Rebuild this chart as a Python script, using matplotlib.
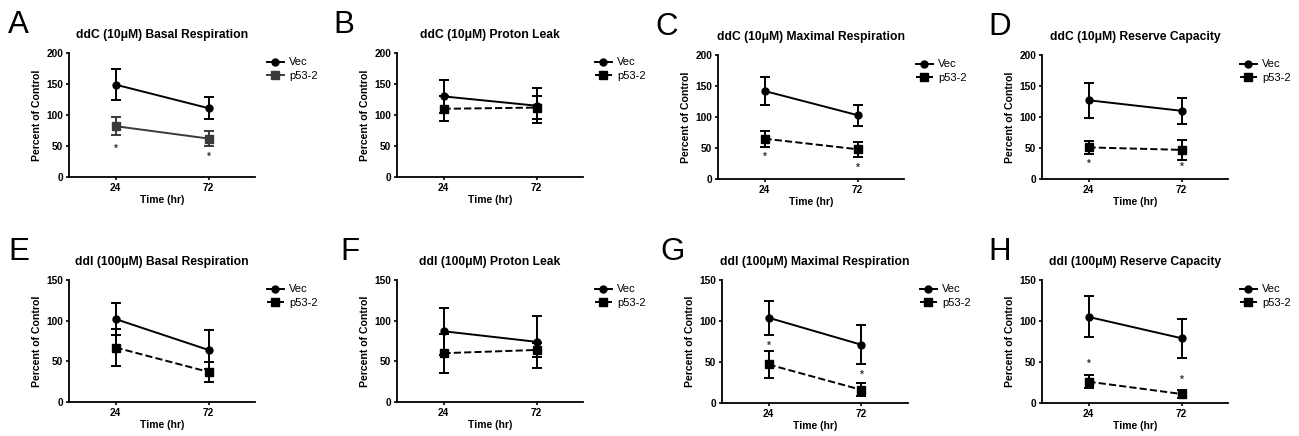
import matplotlib
matplotlib.use('Agg')
import matplotlib.pyplot as plt
from matplotlib.lines import Line2D

plt.rcParams['font.family'] = ['Liberation Sans', 'DejaVu Sans']

# panel data: Vec and p53-2 at 24 h and 72 h (mean, SEM)
timePoints = [24, 72]
panelLetters = ['A', 'B', 'C', 'D', 'E', 'F', 'G', 'H']
panelTitles = ['ddC (10\u03bcM) Basal Respiration', 'ddC (10\u03bcM) Proton Leak',
               'ddC (10\u03bcM) Maximal Respiration', 'ddC (10\u03bcM) Reserve Capacity',
               'ddl (100\u03bcM) Basal Respiration', 'ddl (100\u03bcM) Proton Leak',
               'ddl (100\u03bcM) Maximal Respiration', 'ddl (100\u03bcM) Reserve Capacity']
yMax = [200, 200, 200, 200, 150, 150, 150, 150]
yTicks = [[0, 50, 100, 150, 200]] * 4 + [[0, 50, 100, 150]] * 4
vecMean = [[149, 111], [130, 115], [142, 103], [127, 110],
           [102, 64], [87, 74], [104, 71], [105, 79]]
vecErr = [[25, 18], [26, 28], [23, 17], [28, 21],
          [20, 24], [29, 32], [21, 24], [25, 24]]
p53Mean = [[82, 62], [110, 112], [65, 48], [51, 47],
           [67, 37], [60, 64], [47, 16], [26, 11]]
p53Err = [[14, 12], [20, 19], [13, 12], [11, 16],
          [23, 12], [24, 9], [16, 8], [8, 5]]
# asterisk heights (None = no asterisk)
starY = [[45, 33], [None, None], [35, 18], [25, 20],
         [None, None], [None, None], [70, 34], [48, 28]]
p53Dashed = [False, True, True, True, True, True, True, True]

W, H = 1299, 436
fig = plt.figure(figsize=(W / 100, H / 100), dpi=100)

axLeft = [69, 397, 718, 1042, 69, 397, 722, 1042]
axTop = [53, 53, 55, 55, 280, 280, 280, 280]
axBot = [177, 177, 179, 179, 402, 402, 403, 403]
axW = 186
letterX = [8, 333, 655, 988, 8, 340, 660, 988]

for i in range(8):
    l, t, b = axLeft[i], axTop[i], axBot[i]
    ax = fig.add_axes([l / W, 1 - b / H, axW / W, (b - t) / H])
    p53Color = '#3a3a3a' if i == 0 else 'black'
    p53Ls = '--' if p53Dashed[i] else '-'
    ax.errorbar(timePoints, vecMean[i], yerr=vecErr[i], color='black', marker='o',
                markersize=5, lw=1.4, capsize=3.5, capthick=1.4, elinewidth=1.4,
                zorder=5)
    ax.errorbar(timePoints, p53Mean[i], yerr=p53Err[i], color=p53Color, marker='s',
                markersize=5.5, lw=1.4, capsize=3.5, capthick=1.4, elinewidth=1.4,
                ls=p53Ls, zorder=4)
    for x, s in zip(timePoints, starY[i]):
        if s is not None:
            ax.text(x, s, '*', ha='center', va='center', fontsize=7, fontweight='bold',
                    color='#333333')
    ax.set_xlim(0, 96)
    ax.set_ylim(0, yMax[i])
    ax.set_xticks(timePoints)
    ax.set_yticks(yTicks[i])
    ax.spines['top'].set_visible(False)
    ax.spines['right'].set_visible(False)
    ax.spines['left'].set_linewidth(1.3)
    ax.spines['bottom'].set_linewidth(1.3)
    ax.tick_params(width=1.2, length=2.5, labelsize=7.3, pad=1.5)
    for lab in ax.get_xticklabels() + ax.get_yticklabels():
        lab.set_fontweight('bold')
    ax.set_xlabel('Time (hr)', fontsize=7.5, fontweight='bold', labelpad=2)
    ax.set_ylabel('Percent of Control', fontsize=7.6, fontweight='bold', labelpad=3)
    ax.set_title(panelTitles[i], fontsize=8.7, fontweight='bold', pad=11)
    handles = [Line2D([], [], color='black', marker='o', markersize=5, lw=1.4),
               Line2D([], [], color=p53Color, marker='s', markersize=5.5, lw=1.4, ls=p53Ls)]
    ax.legend(handles, ['Vec', 'p53-2'], loc='upper left', bbox_to_anchor=(1.04, 1.0),
              frameon=False, fontsize=8, handlelength=1.5, handletextpad=0.5,
              labelspacing=0.35, borderaxespad=0)
    fig.text(letterX[i] / W, 1 - (t - 20) / H, panelLetters[i], fontsize=22.5,
             ha='left', va='baseline')

fig.savefig('out.png', dpi=100)
